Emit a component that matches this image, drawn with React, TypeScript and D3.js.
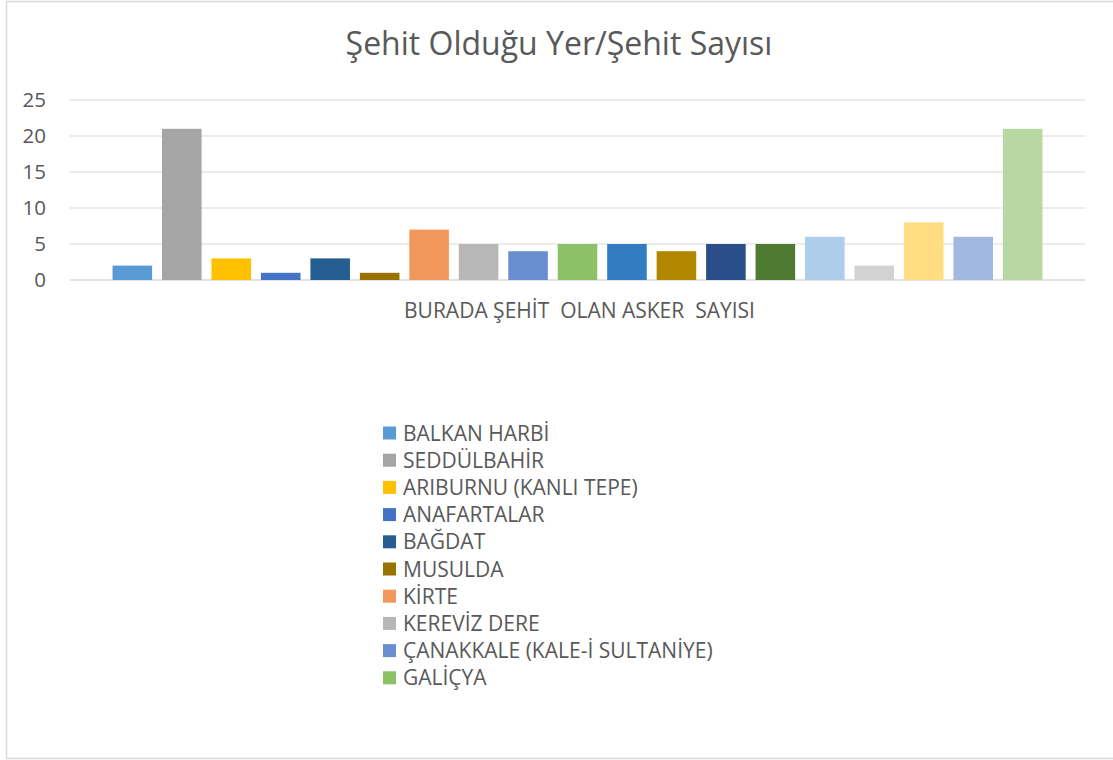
import React from "react";
import * as d3 from "d3";

const title = "Şehit Olduğu Yer/Şehit Sayısı";
const categories = ["BURADA ŞEHİT  OLAN ASKER  SAYISI"];
const seriesNames = [
  "BALKAN HARBİ",
  "SEDDÜLBAHİR",
  "ARIBURNU (KANLI TEPE)",
  "ANAFARTALAR",
  "BAĞDAT",
  "MUSULDA",
  "KİRTE",
  "KEREVİZ DERE",
  "ÇANAKKALE (KALE-İ SULTANİYE)",
  "GALİÇYA",
  "Seri 11",
  "Seri 12",
  "Seri 13",
  "Seri 14",
  "Seri 15",
  "Seri 16",
  "Seri 17",
  "Seri 18",
  "Seri 19",
];
const seriesValues = [2, 21, 3, 1, 3, 1, 7, 5, 4, 5, 5, 4, 5, 5, 6, 2, 8, 6, 21];
const seriesColors = [
  "#5B9BD5", "#A5A5A5", "#FFC000", "#4472C4", "#255E91", "#997300",
  "#F1975A", "#B7B7B7", "#698ED0", "#8CC168", "#327DC2", "#B38600",
  "#2A4E8A", "#4E7A32", "#ADCDEA", "#D2D2D2", "#FFDD80", "#A2B8E1", "#B7D7A3",
];
const legendCount = 10;
const yTicks = [0, 5, 10, 15, 20, 25];

const W = 1113;
const H = 760;
const FONT = "'Open Sans', 'Noto Sans', sans-serif";
const TEXT = "#595959";

export default function App() {
  const plotLeft = 70;
  const plotRight = 1085;
  const y = d3.scaleLinear().domain([0, 25]).range([280, 100]);
  const x0 = d3.scaleBand<string>().domain(categories).range([plotLeft, plotRight]).paddingOuter(0.04).paddingInner(0);
  const x1 = d3
    .scaleBand<string>()
    .domain(seriesNames)
    .range([0, x0.bandwidth()])
    .paddingInner(0.2)
    .paddingOuter(0.1);

  const legendItems = seriesNames.slice(0, legendCount);

  return (
    <svg width={W} height={H} style={{ position: "absolute", left: 0, top: 0, display: "block" }}>
      <rect x={0} y={0} width={W} height={H} fill="#fff" />
      <rect x={6.5} y={1.5} width={W + 10} height={757} fill="#fff" stroke="#D9D9D9" strokeWidth={1.5} />
      <text x={559} y={55} textAnchor="middle" fontFamily={FONT} fontSize={32} fill={TEXT}>
        {title}
      </text>
      {yTicks.map((t) => (
        <g key={t}>
          <line x1={plotLeft} x2={plotRight} y1={y(t)} y2={y(t)} stroke="#D9D9D9" strokeWidth={t === 0 ? 1.5 : 1.2} />
          <text x={46} y={y(t)} dy="0.36em" textAnchor="end" fontFamily={FONT} fontSize={20.5} fill={TEXT}>
            {t}
          </text>
        </g>
      ))}
      {categories.map((c) => (
        <g key={c} transform={`translate(${x0(c)},0)`}>
          {seriesNames.map((s, i) => (
            <rect
              key={s}
              x={x1(s)}
              y={y(seriesValues[i])}
              width={x1.bandwidth()}
              height={y(0) - y(seriesValues[i])}
              fill={seriesColors[i]}
            />
          ))}
          <text
            x={x0.bandwidth() / 2 + 2}
            y={318}
            textAnchor="middle"
            fontFamily={FONT}
            fontSize={21}
            fill={TEXT}
            style={{ whiteSpace: "pre" }}
          >
            {c}
          </text>
        </g>
      ))}
      {legendItems.map((s, i) => {
        const cy = 433 + i * 27.2;
        return (
          <g key={s}>
            <rect x={383} y={cy - 6.5} width={13} height={13} fill={seriesColors[i]} />
            <text x={403} y={cy} dy="0.36em" fontFamily={FONT} fontSize={21} fill={TEXT}>
              {s}
            </text>
          </g>
        );
      })}
    </svg>
  );
}
